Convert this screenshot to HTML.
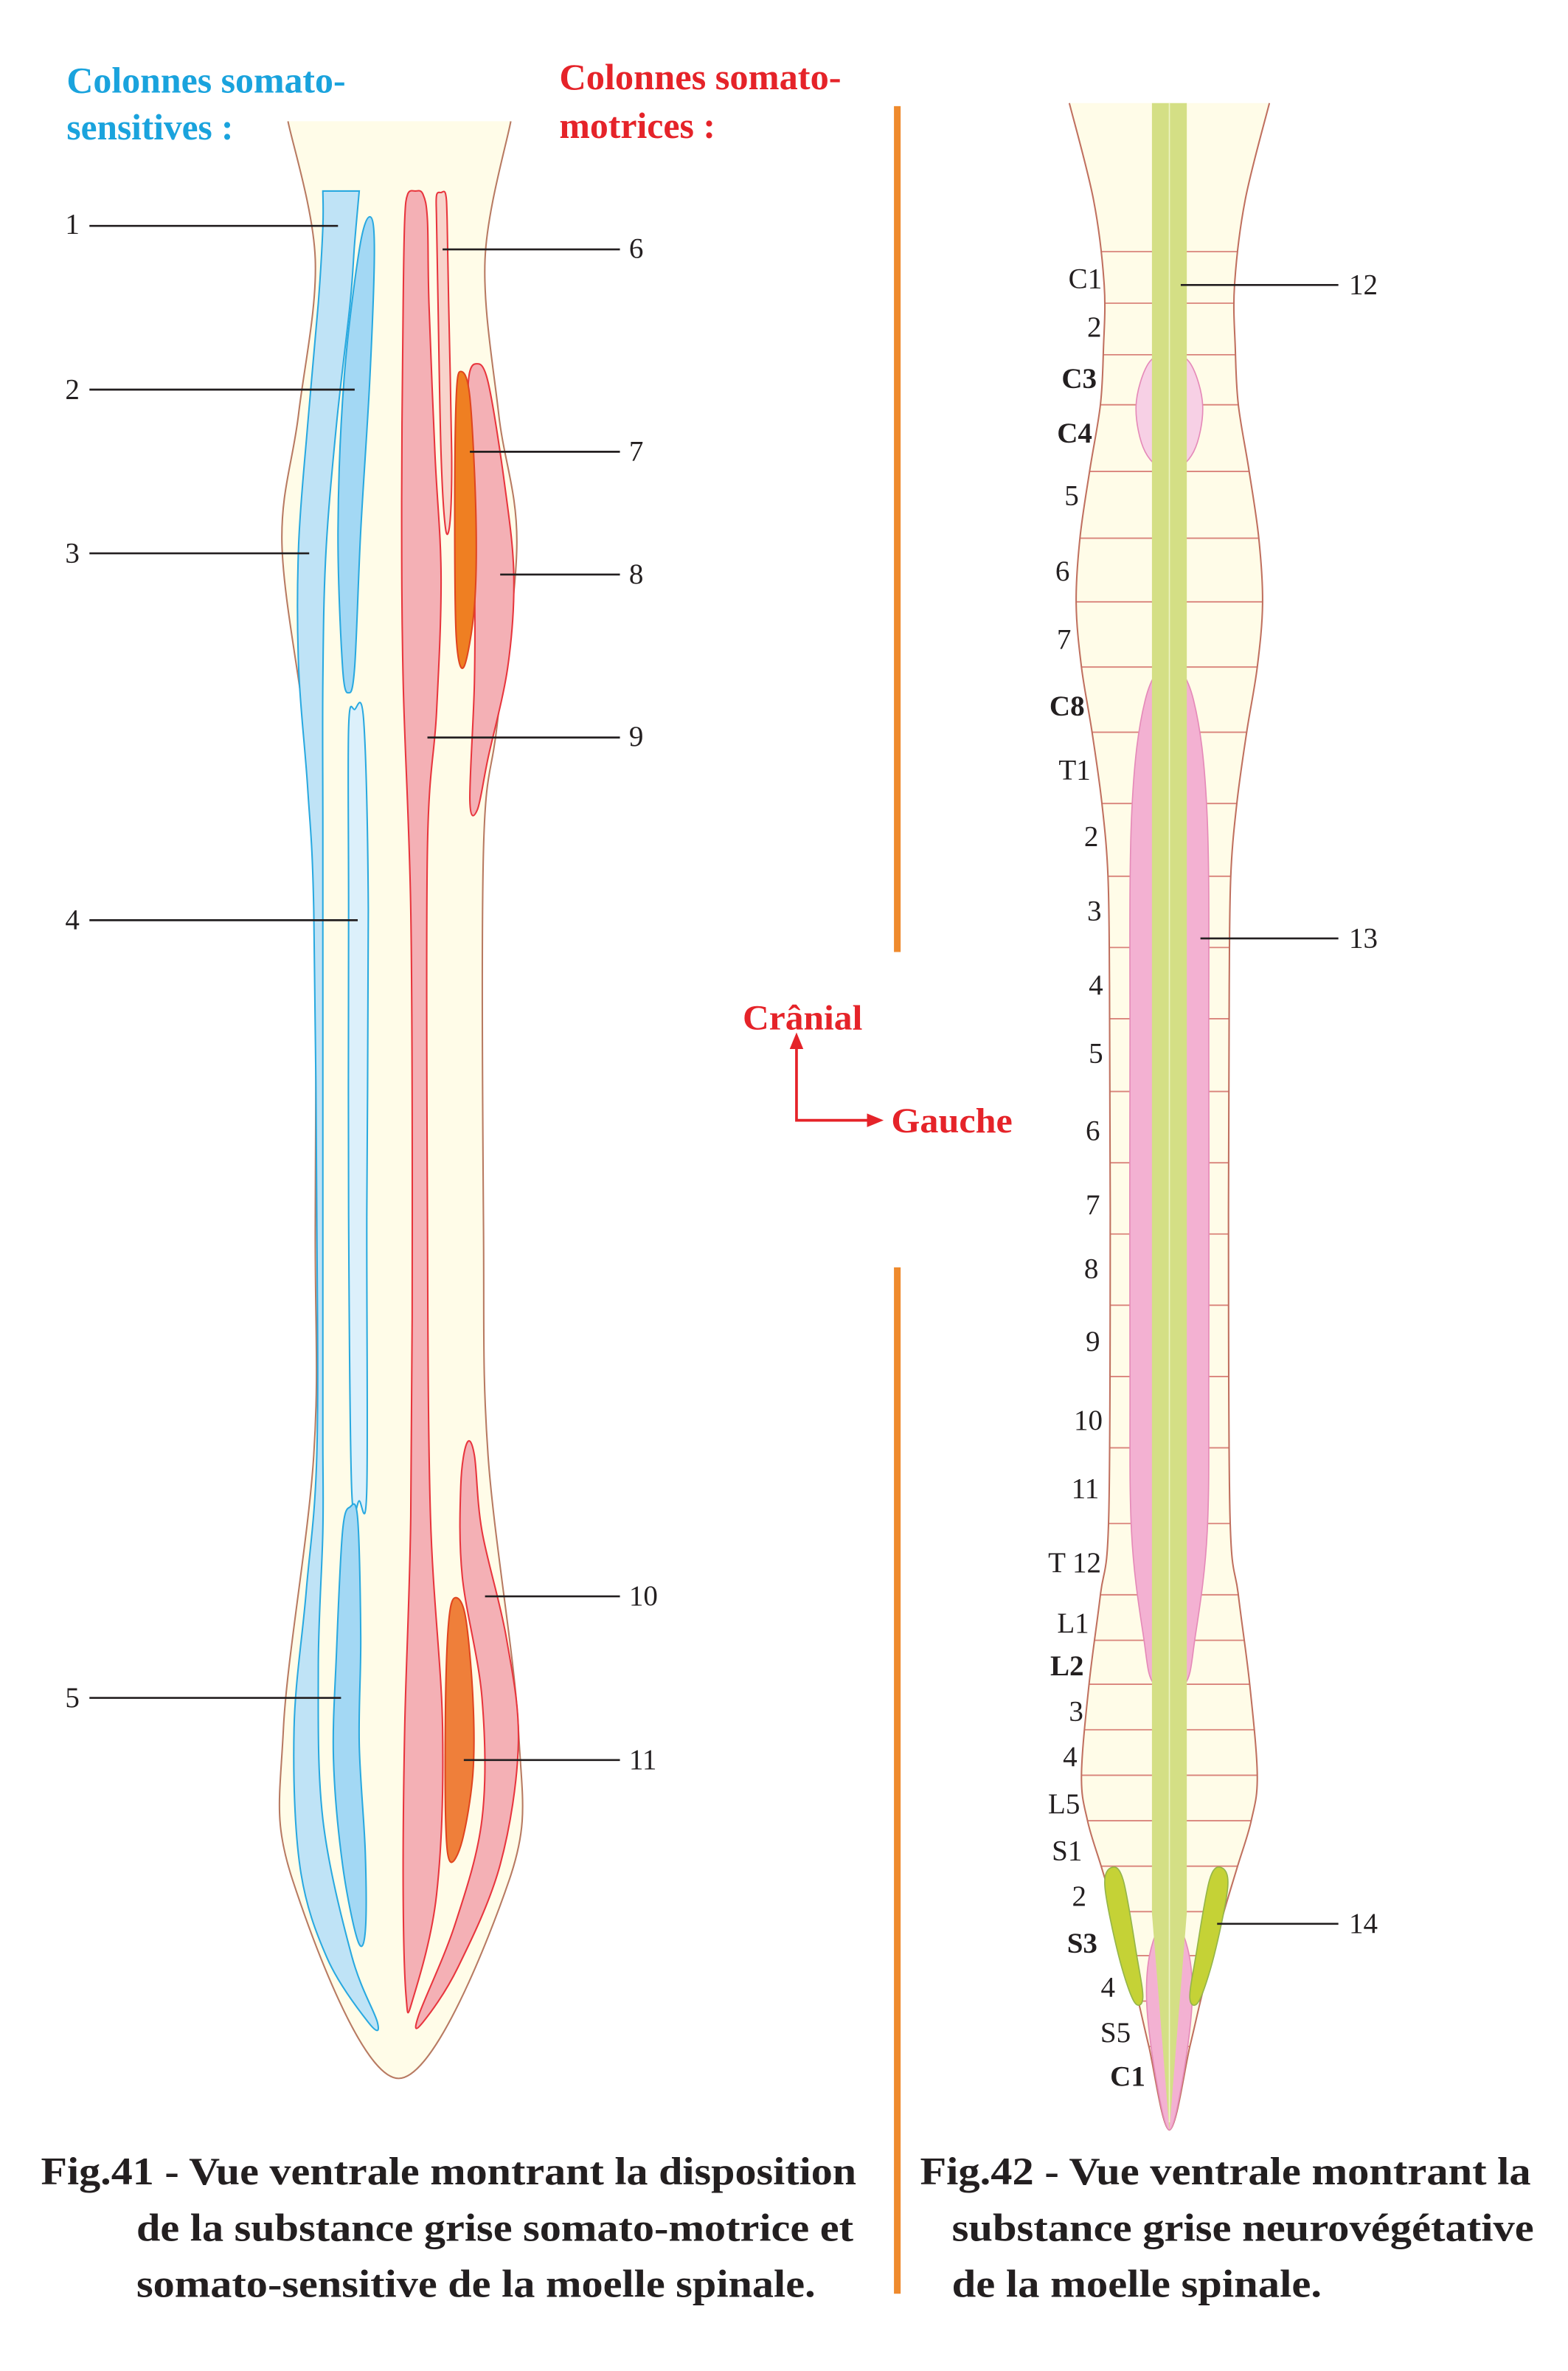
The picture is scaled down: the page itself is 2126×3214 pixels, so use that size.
<!DOCTYPE html>
<html><head><meta charset="utf-8"><title>Moelle spinale – substance grise</title>
<style>
html,body{margin:0;padding:0;background:#fff;}
svg{display:block;}
text{font-family:"Liberation Serif","DejaVu Serif",serif;}
</style></head>
<body>
<svg id="fig" xmlns="http://www.w3.org/2000/svg" width="2126" height="3214" viewBox="0 0 1034.5 1564" preserveAspectRatio="none">
<rect width="1034.5" height="1564" fill="#ffffff"/>

<!-- ===== Fig 41 ===== -->
<g>
  <text x="44" y="61" font-size="24" font-weight="bold" fill="#1aa3dd" textLength="184" lengthAdjust="spacingAndGlyphs">Colonnes somato-</text>
  <text x="44" y="92" font-size="24" font-weight="bold" fill="#1aa3dd" textLength="110" lengthAdjust="spacingAndGlyphs">sensitives :</text>
  <text x="369" y="59" font-size="24" font-weight="bold" fill="#e52329" textLength="186" lengthAdjust="spacingAndGlyphs">Colonnes somato-</text>
  <text x="369" y="91" font-size="24" font-weight="bold" fill="#e52329" textLength="103" lengthAdjust="spacingAndGlyphs">motrices :</text>

  <path id="cordL-fill" fill="#fffce8" stroke="none"/>
  <path id="cordL-stroke" fill="none" stroke="#b87a62" stroke-width="1"/>

  <path id="blue3" fill="#bfe3f6" stroke="#29a9e0" stroke-width="1"/>
  <path id="blue2" fill="#a3d8f4" stroke="#29a9e0" stroke-width="1"/>
  <path id="blue4" fill="#dcf0fb" stroke="#29a9e0" stroke-width="1"/>
  <path id="blue5" fill="#a3d8f4" stroke="#29a9e0" stroke-width="1"/>
  <path id="red9" fill="#f4b0b5" stroke="#e8353d" stroke-width="1"/>
  <path id="pink6" fill="#f8d3cb" stroke="#e8353d" stroke-width="1"/>
  <path id="pink8" fill="#f4b0b5" stroke="#e8353d" stroke-width="1"/>
  <path id="orange7" fill="#ef7f22" stroke="#e0451f" stroke-width="1"/>
  <path id="pink10" fill="#f4b0b5" stroke="#e8353d" stroke-width="1"/>
  <path id="orange11" fill="#ef7f3a" stroke="#e0451f" stroke-width="1"/>

  <g stroke="#231f20" stroke-width="1.3">
    <line x1="59" y1="149" x2="223" y2="149"/>
    <line x1="59" y1="257" x2="234" y2="257"/>
    <line x1="59" y1="365" x2="204" y2="365"/>
    <line x1="59" y1="607" x2="236" y2="607"/>
    <line x1="59" y1="1120" x2="225" y2="1120"/>
    <line x1="292" y1="164.5" x2="409" y2="164.5"/>
    <line x1="310" y1="298" x2="409" y2="298"/>
    <line x1="330" y1="379" x2="409" y2="379"/>
    <line x1="282" y1="486.5" x2="409" y2="486.5"/>
    <line x1="320" y1="1053" x2="409" y2="1053"/>
    <line x1="306" y1="1161" x2="409" y2="1161"/>
  </g>
  <g font-size="19" fill="#231f20">
    <text x="43" y="154">1</text>
    <text x="43" y="263">2</text>
    <text x="43" y="371">3</text>
    <text x="43" y="613">4</text>
    <text x="43" y="1126">5</text>
    <text x="415" y="170">6</text>
    <text x="415" y="304">7</text>
    <text x="415" y="385">8</text>
    <text x="415" y="492">9</text>
    <text x="415" y="1059">10</text>
    <text x="415" y="1167">11</text>
  </g>
  <text x="27" y="1441" font-size="26" font-weight="bold" fill="#231f20" textLength="538" lengthAdjust="spacingAndGlyphs">Fig.41 - Vue ventrale montrant la disposition</text>
  <text x="90" y="1478" font-size="26" font-weight="bold" fill="#231f20" textLength="473" lengthAdjust="spacingAndGlyphs">de la substance grise somato-motrice et</text>
  <text x="90" y="1515" font-size="26" font-weight="bold" fill="#231f20" textLength="448" lengthAdjust="spacingAndGlyphs">somato-sensitive de la moelle spinale.</text>
</g>

<!-- ===== Divider & orientation ===== -->
<g>
  <line x1="592" y1="70" x2="592" y2="628" stroke="#ef8a2d" stroke-width="4.4"/>
  <line x1="592" y1="836" x2="592" y2="1513" stroke="#ef8a2d" stroke-width="4.4"/>
</g>
<g>
  <text x="490" y="679" font-size="23" font-weight="bold" fill="#e52329" textLength="79" lengthAdjust="spacingAndGlyphs">Crânial</text>
  <polyline points="525.5,686 525.5,739 575,739" fill="none" stroke="#e52329" stroke-width="1.8"/>
  <polygon points="525.5,681 521,692 530,692" fill="#e52329"/>
  <polygon points="583,739 572,734.5 572,743.5" fill="#e52329"/>
  <text x="588" y="747" font-size="23" font-weight="bold" fill="#e52329" textLength="80" lengthAdjust="spacingAndGlyphs">Gauche</text>
</g>

<!-- ===== Fig 42 ===== -->
<g>
  <defs><clipPath id="cordRclip"><path id="cordR-clip"/></clipPath></defs>
  <path id="cordR-fill" fill="#fffce8" stroke="none"/>
  <g id="segLines" clip-path="url(#cordRclip)" stroke="#d9837a" stroke-width="0.9"></g>
  <path id="cordR-stroke" fill="none" stroke="#c0705f" stroke-width="1"/>
  <path id="pinkC3" fill="#f7d0e5" stroke="#e58ab8" stroke-width="0.8"/>
  <path id="pink13" fill="#f3b1d2" stroke="#e58ab8" stroke-width="0.8"/>
  <path id="pinkS" fill="#f3b1d2" stroke="#e58ab8" stroke-width="0.8"/>
  <path id="green" fill="#d4df85" stroke="none"/>
  <path id="greenMid" fill="none" stroke="#eef3c4" stroke-width="0.8"/>
  <path id="ovalL" fill="#c5d236" stroke="#95b54a" stroke-width="0.8"/>
  <path id="ovalR" fill="#c5d236" stroke="#95b54a" stroke-width="0.8"/>
  <g stroke="#231f20" stroke-width="1.3">
    <line x1="779" y1="188" x2="883" y2="188"/>
    <line x1="792" y1="619" x2="883" y2="619"/>
    <line x1="803" y1="1269" x2="883" y2="1269"/>
  </g>
  <g font-size="19" fill="#231f20">
    <text x="890" y="194">12</text>
    <text x="890" y="625">13</text>
    <text x="890" y="1275">14</text>
  </g>
  <g id="segLabels" font-size="19" fill="#231f20" text-anchor="middle"></g>
  <text x="607" y="1441" font-size="26" font-weight="bold" fill="#231f20" textLength="403" lengthAdjust="spacingAndGlyphs">Fig.42 - Vue ventrale montrant la</text>
  <text x="628" y="1478" font-size="26" font-weight="bold" fill="#231f20" textLength="384" lengthAdjust="spacingAndGlyphs">substance grise neurovégétative</text>
  <text x="628" y="1515" font-size="26" font-weight="bold" fill="#231f20" textLength="244" lengthAdjust="spacingAndGlyphs">de la moelle spinale.</text>
</g>
</svg>

<script>
// Segment line y positions (Fig.42)
var segLineY = [166,200,234,267,311,355,397,440,483,530,578,625,672,720,767,814,861,908,955,1005,1052,1082,1111,1141,1171,1201,1231,1261,1290,1320,1350];
// Segment labels
var segNames = ["C1","2","C3","C4","5","6","7","C8","T1","2","3","4","5","6","7","8","9","10","11","T 12","L1","L2","3","4","L5","S1","2","S3","4","S5","C1"];
var segBold  = [0,0,1,1,0,0,0,1,0,0,0,0,0,0,0,0,0,0,0,0,0,1,0,0,0,0,0,1,0,0,1];
var segLabelX = [716,722,712,709,707,701,702,704,709,720,722,723,723,721,721,720,721,718,716,709,708,704,710,706,702,704,712,714,731,736,744];
var segLabelY = [183,215,249,285,326,376,421,465,507,551,600,649,694,745,794,836,884,936,981,1030,1070,1098,1128,1158,1189,1220,1250,1281,1310,1340,1369];

var NS = "http://www.w3.org/2000/svg";
function cr(pts, closed){
  var n = pts.length, d = "M" + pts[0][0] + "," + pts[0][1];
  var last = closed ? n : n - 1;
  for (var i = 0; i < last; i++){
    var p0 = pts[(i - 1 + n) % n], p1 = pts[i], p2 = pts[(i + 1) % n], p3 = pts[(i + 2) % n];
    if (!closed){ if (i === 0) p0 = p1; if (i + 2 >= n) p3 = p2; }
    var c1x = p1[0] + (p2[0] - p0[0]) / 6, c1y = p1[1] + (p2[1] - p0[1]) / 6;
    var c2x = p2[0] - (p3[0] - p1[0]) / 6, c2y = p2[1] - (p3[1] - p1[1]) / 6;
    d += " C" + c1x.toFixed(2) + "," + c1y.toFixed(2) + " " + c2x.toFixed(2) + "," + c2y.toFixed(2) + " " + p2[0] + "," + p2[1];
  }
  if (closed) d += " Z";
  return d;
}
function setD(id, d){ document.getElementById(id).setAttribute("d", d); }

// ---- Fig 41 ----
var cordLeft = [[190,80],[208,171],[197,273],[186,358],[201,478],[208,560],[208,810],[207,960],[187,1140],[193,1240],[263,1371]];
var cordRight = [[337,80],[320,171],[329,273],[341,358],[328,478],[319,560],[319,810],[322,960],[342,1140],[336,1240],[263,1371]];
var outline = cordLeft.slice(0, -1).concat(cordRight.slice().reverse());
setD("cordL-stroke", cr(outline, false));
setD("cordL-fill", cr(outline, false) + " Z");

// blue 1-3: sharp trapezoid top
var b3 = cr([[237,126],[234,160],[231,200],[222,280],[215,365],[213,450],[213,550],[213,700],[213,850],[213,950],[213,1010],[210,1100],[213,1200],[232,1290],[249,1334],[243,1334],[216,1292],[198,1232],[194,1140],[202,1050],[209,960],[209,800],[207,600],[203,520],[197,440],[197,360],[203,280],[210,200],[213,150],[213,126]], false) + " Z";
setD("blue3", b3);
setD("blue2", cr([[244,143],[247,165],[244,250],[238,350],[234,440],[230,457],[226,440],[223,350],[227,250],[237,165]], true));
setD("blue4", cr([[234,468],[240,476],[243,600],[242,800],[242,982],[237,990],[232,982],[230,800],[230,600],[230,480]], true));
setD("blue5", cr([[231,994],[236,1002],[238,1080],[237,1150],[241,1222],[241,1274],[236,1280],[226,1230],[220,1160],[222,1090],[226,1010]], true));
setD("red9", cr([[274,126],[279,128],[282,145],[283,200],[287,300],[291,380],[288,470],[282,560],[282,800],[284,1000],[292,1140],[288,1250],[272,1320],[268,1318],[266,1250],[267,1140],[271,1000],[272,800],[271,600],[266,450],[265,330],[266,200],[267,145],[269,128]], true));
setD("pink6", cr([[291,127],[294,128],[295,145],[296,200],[298,300],[297,343],[294,349],[291,300],[289,200],[288,145],[288,129]], true));
setD("pink8", cr([[314,240],[322,252],[333,320],[339,380],[335,440],[322,500],[315,534],[310,528],[313,450],[313,380],[310,300],[309,252]], true));
setD("orange7", cr([[304,245],[310,262],[314,340],[313,400],[306,440],[301,420],[300,340],[301,262]], true));
setD("pink10", cr([[308,952],[313,960],[318,1010],[334,1080],[342,1150],[330,1230],[302,1298],[279,1334],[276,1330],[300,1270],[318,1200],[318,1120],[305,1040],[304,980]], true));
setD("orange11", cr([[300,1054],[307,1066],[312,1120],[312,1170],[305,1214],[297,1228],[294,1200],[294,1120],[296,1070]], true));

// ---- Fig 42 ----
var cx = 771.5;
var prof = [[68,66],[132,50],[188,43],[230,43.5],[267,45.5],[310,52.5],[355,59],[398,61.5],[440,58],[483,51],[530,44.5],[578,40.5],[650,39.5],[800,39],[1000,40],[1052,45.5],[1111,53],[1171,58],[1201,54],[1231,45],[1261,36],[1290,28],[1320,20.5],[1350,13.5]];
var Lp = prof.map(function(p){ return [cx - p[1], p[0]]; });
var Rp = prof.map(function(p){ return [cx + p[1], p[0]]; }).reverse();
var rOutline = Lp.concat([[cx,1405]]).concat(Rp);
setD("cordR-stroke", cr(rOutline, false));
setD("cordR-fill", cr(rOutline, false) + " Z");
setD("cordR-clip", cr(rOutline, false) + " Z");

var gSeg = document.getElementById("segLines");
segLineY.forEach(function(y){
  var l = document.createElementNS(NS, "line");
  l.setAttribute("x1", 690); l.setAttribute("x2", 860);
  l.setAttribute("y1", y); l.setAttribute("y2", y);
  
  
  gSeg.appendChild(l);
});

var gLab = document.getElementById("segLabels");
segNames.forEach(function(s, i){
  var t = document.createElementNS(NS, "text");
  t.setAttribute("x", segLabelX[i]);
  t.setAttribute("y", segLabelY[i] + 7);
  if (segBold[i]) t.setAttribute("font-weight", "bold");
  t.textContent = s;
  
  
  gLab.appendChild(t);
});

setD("pinkC3", cr([[cx,233],[cx+14,240],[cx+22,268],[cx+16,298],[cx,311],[cx-16,298],[cx-22,268],[cx-14,240]], true));
setD("pink13", cr([[cx,438],[cx+16,462],[cx+25,540],[cx+26,700],[cx+26,900],[cx+25,1010],[cx+17,1080],[cx+10,1111],[cx-10,1111],[cx-17,1080],[cx-25,1010],[cx-26,900],[cx-26,700],[cx-25,540],[cx-16,462]], true));
setD("pinkS", cr([[cx,1262],[cx+12,1285],[cx+15,1320],[cx+9,1370],[cx,1405],[cx-9,1370],[cx-15,1320],[cx-12,1285]], true));
setD("green", "M" + (cx-11.5) + ",68 L" + (cx+11.5) + ",68 L" + (cx+11.5) + ",1262 L" + cx + ",1405 L" + (cx-11.5) + ",1262 Z");
setD("greenMid", "M" + cx + ",68 L" + cx + ",1400");
setD("ovalL", cr([[733,1232],[741,1240],[750,1290],[754,1318],[748,1320],[738,1290],[729,1245]], true));
setD("ovalR", cr([[806,1232],[810,1245],[801,1290],[791,1320],[785,1318],[789,1290],[798,1240]], true));
</script>
</body></html>
